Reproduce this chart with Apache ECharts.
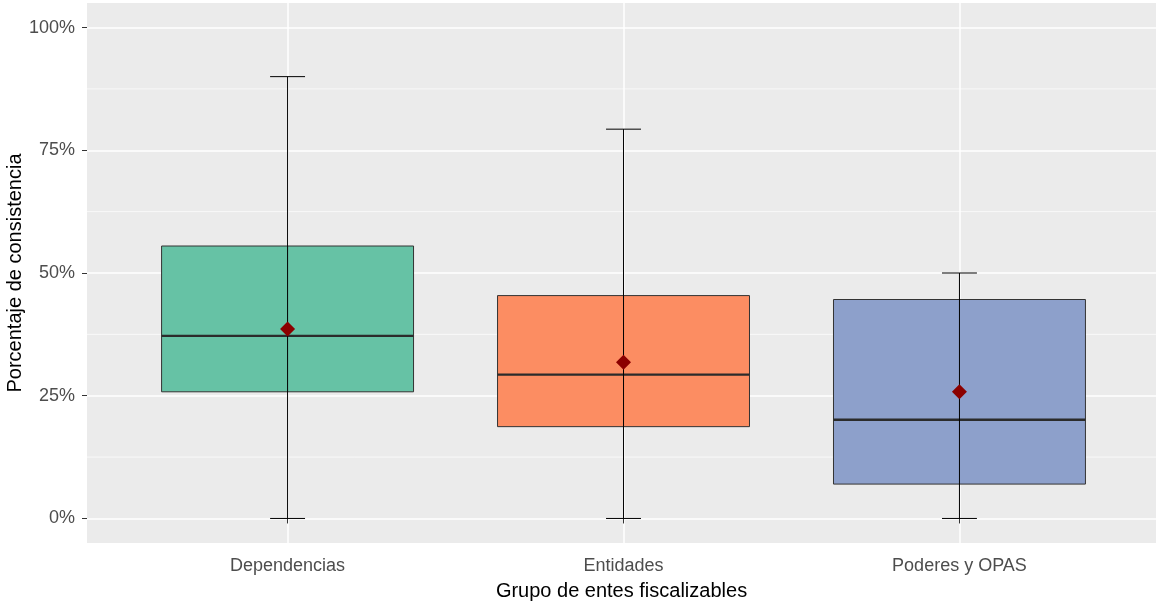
<!DOCTYPE html>
<html>
<head>
<meta charset="utf-8">
<title>Porcentaje de consistencia</title>
<script src="https://cdn.jsdelivr.net/npm/echarts@6/dist/echarts.min.js"></script>
<style>
  html, body { margin: 0; padding: 0; background: #fff; }
  #main { width: 1159px; height: 602px; }
</style>
</head>
<body>
<div id="main"></div>
<script>
// datos (porcentajes)
var categorias = ['Dependencias', 'Entidades', 'Poderes y OPAS'];
var minimos = [0, 0, 0];
var q1 = [25.8, 18.7, 7.0];
var medianas = [37.2, 29.3, 20.1];
var q3 = [55.5, 45.4, 44.6];
var maximos = [90, 79.3, 50];
var medias = [38.6, 31.8, 25.8];
var colores = ['#66C2A5', '#FC8D62', '#8DA0CB'];
var yTicks = [0, 25, 50, 75, 100];
var yMenores = [12.5, 37.5, 62.5, 87.5];

var datos = categorias.map(function (c, i) {
  return [i + 1, minimos[i], q1[i], medianas[i], q3[i], maximos[i], medias[i]];
});

var myChart = echarts.init(document.getElementById('main'));

// lineas menores de la rejilla
function dibujarMenor(params, api) {
  var cs = params.coordSys;
  var y = api.coord([1, api.value(0)])[1];
  return {
    type: 'line',
    shape: { x1: cs.x, y1: y, x2: cs.x + cs.width, y2: y },
    style: { stroke: '#ffffff', lineWidth: 0.7 }
  };
}

function dibujarCaja(params, api) {
  var x = api.value(0);
  var idx = params.dataIndex;
  var bw = 0.375, cw = 0.052;
  var esq1 = api.coord([x - bw, api.value(4)]);
  var esq2 = api.coord([x + bw, api.value(2)]);
  var medL = api.coord([x - bw, api.value(3)]);
  var medR = api.coord([x + bw, api.value(3)]);
  var arriba = api.coord([x, api.value(5)]);
  var abajo = api.coord([x, api.value(1)]);
  var capL = api.coord([x - cw, 0])[0];
  var capR = api.coord([x + cw, 0])[0];
  var m = api.coord([x, api.value(6)]);
  var d = 7.5;
  return {
    type: 'group',
    children: [
      { type: 'rect', shape: { x: esq1[0], y: esq1[1], width: esq2[0] - esq1[0], height: esq2[1] - esq1[1] },
        style: { fill: colores[idx], stroke: '#333333', lineWidth: 1 } },
      { type: 'line', shape: { x1: medL[0], y1: medL[1], x2: medR[0], y2: medR[1] },
        style: { stroke: '#2b2b2b', lineWidth: 2.4 } },
      { type: 'line', shape: { x1: arriba[0], y1: arriba[1], x2: abajo[0], y2: abajo[1] },
        style: { stroke: '#000', lineWidth: 1 } },
      { type: 'line', shape: { x1: capL, y1: arriba[1], x2: capR, y2: arriba[1] },
        style: { stroke: '#000', lineWidth: 1 } },
      { type: 'line', shape: { x1: capL, y1: abajo[1], x2: capR, y2: abajo[1] },
        style: { stroke: '#000', lineWidth: 1 } },
      { type: 'polygon', shape: { points: [[m[0], m[1] - d], [m[0] + d, m[1]], [m[0], m[1] + d], [m[0] - d, m[1]]] },
        style: { fill: '#8B0000' } }
    ]
  };
}

var option = {
  backgroundColor: '#ffffff',
  animation: false,
  textStyle: { fontFamily: 'Liberation Sans, Arial, sans-serif' },
  grid: {
    left: 87, right: 3, top: 3, bottom: 59,
    outerBoundsMode: 'none',
    containLabel: false,
    show: true, backgroundColor: '#EBEBEB', borderWidth: 0
  },
  xAxis: {
    type: 'value',
    min: 0.403,
    max: 3.585,
    name: 'Grupo de entes fiscalizables',
    nameLocation: 'middle',
    nameGap: 38,
    nameMoveOverlap: false,
    nameTextStyle: { fontSize: 20, color: '#000' },
    axisLine: { show: false },
    axisTick: { show: true, customValues: [1, 2, 3], length: 5, lineStyle: { color: '#333' } },
    axisLabel: {
      customValues: [1, 2, 3],
      fontSize: 18, color: '#4D4D4D', margin: 14,
      formatter: function (v) { return categorias[Math.round(v) - 1]; }
    },
    splitLine: { show: true, lineStyle: { color: '#ffffff', width: 1.5 } }
  },
  yAxis: {
    type: 'value',
    min: -5,
    max: 105,
    name: 'Porcentaje de consistencia',
    nameLocation: 'middle',
    nameGap: 62,
    nameMoveOverlap: false,
    nameTextStyle: { fontSize: 20, color: '#000' },
    axisLine: { show: false },
    axisTick: { show: true, customValues: yTicks, length: 5, lineStyle: { color: '#333' } },
    axisLabel: {
      customValues: yTicks,
      fontSize: 18, color: '#4D4D4D', margin: 12,
      formatter: '{value}%'
    },
    splitLine: { show: true, lineStyle: { color: '#ffffff', width: 1.5 } }
  },
  series: [
    {
      type: 'custom',
      z: 1,
      silent: true,
      renderItem: dibujarMenor,
      encode: { y: 0 },
      data: yMenores.map(function (v) { return [v]; })
    },
    {
      type: 'custom',
      z: 3,
      renderItem: dibujarCaja,
      encode: { x: 0, y: [1, 2, 3, 4, 5, 6] },
      data: datos
    }
  ]
};

myChart.setOption(option);
</script>
</body>
</html>
